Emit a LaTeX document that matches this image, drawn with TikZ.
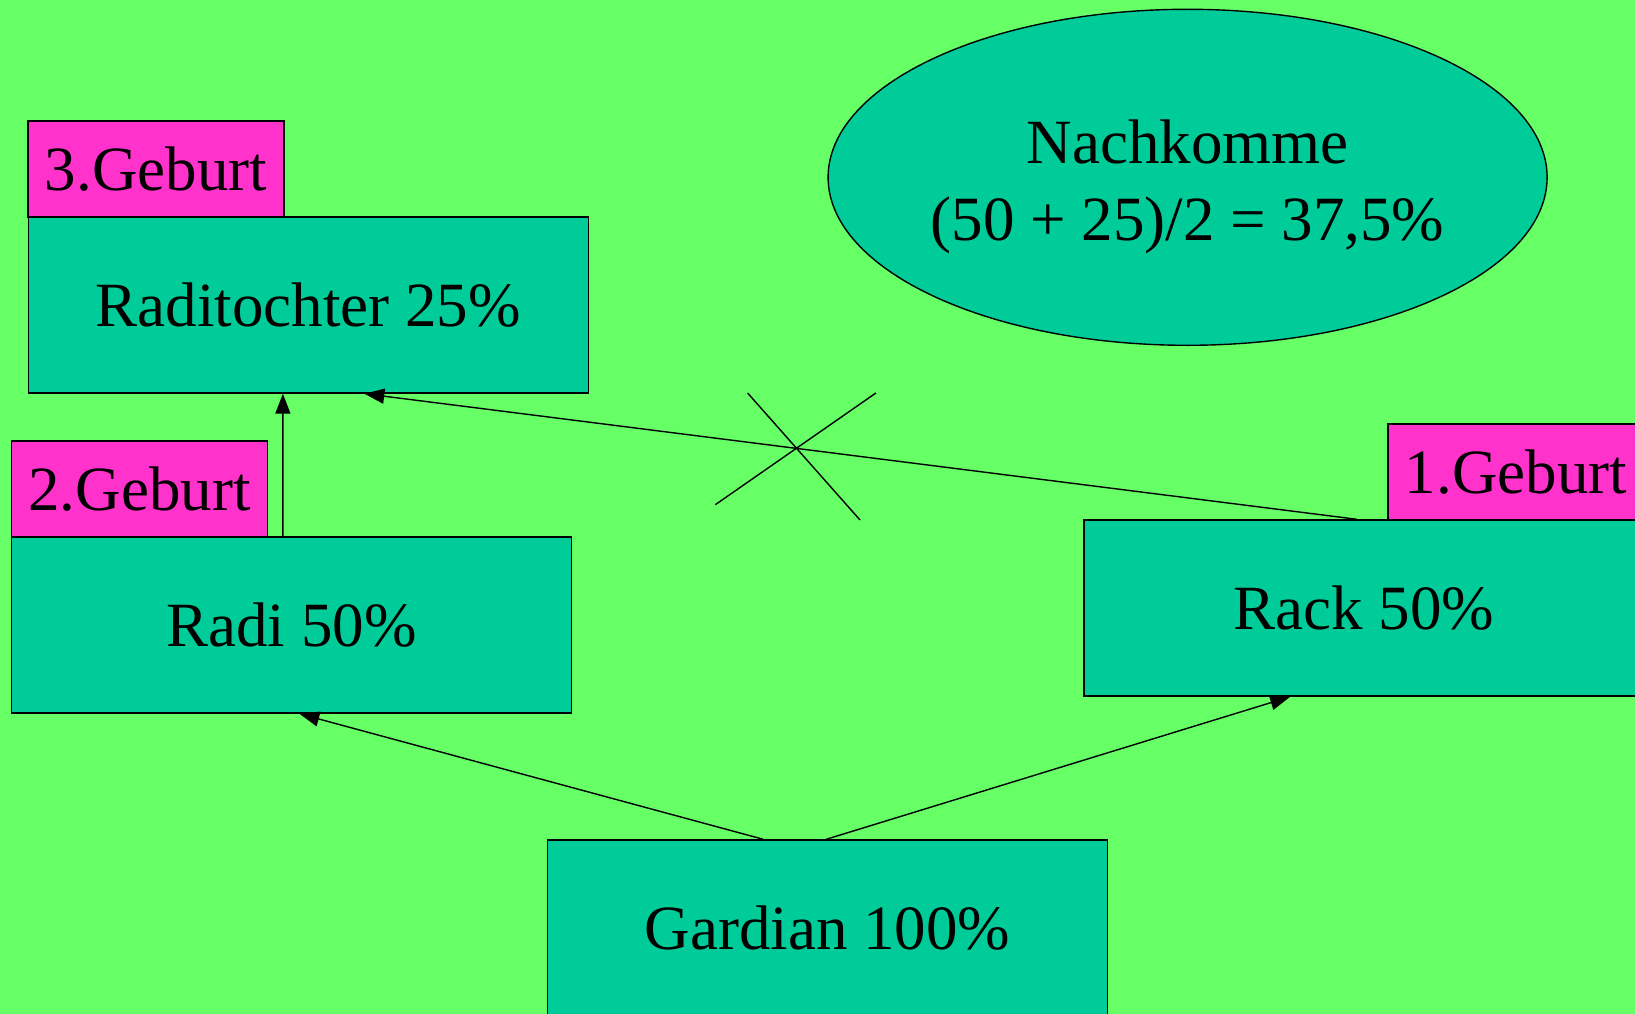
\documentclass[tikz,border=0pt]{standalone}
\usepackage{fontspec}
\setmainfont{Liberation Serif}
\usetikzlibrary{shapes.geometric,arrows.meta}
\definecolor{bg}{HTML}{66FF66}
\definecolor{boxc}{HTML}{00CC99}
\definecolor{pinkc}{HTML}{FF33CC}
\begin{document}
\begin{tikzpicture}[x=1pt,y=-1pt,
  every node/.style={font=\fontsize{63}{77}\selectfont},
  mainbox/.style={draw=black,line width=1.4pt,fill=boxc,inner sep=0pt,minimum width=560pt,minimum height=176pt,text depth=-4pt},
  tagbox/.style={draw=black,line width=1.4pt,fill=pinkc,inner sep=0pt,minimum width=256pt,minimum height=96pt},
  conn/.style={line width=1.4pt,-{Triangle[length=20pt,width=15pt]}},
  plainline/.style={line width=1.4pt}]
\fill[bg] (0,0) rectangle (1635,1014);
\useasboundingbox (0,0) rectangle (1635,1014);
% boxes
\node[mainbox] (rt) at (308.2,305) {Raditochter 25\%};
\node[tagbox] (g3) at (156,169) {3.Geburt};
\node[mainbox] (radi) at (291.5,625) {Radi 50\%};
\node[tagbox] (g2) at (139.5,489) {2.Geburt};
\node[mainbox] (rack) at (1364,608) {Rack 50\%};
\node[tagbox] (g1) at (1516,472) {1.Geburt};
\node[mainbox] (gard) at (827.4,928) {Gardian 100\%};
\node[ellipse,draw=black,line width=1.4pt,fill=boxc,inner sep=0pt,minimum width=719pt,minimum height=336pt,
  label={[align=center,yshift=-10pt]center:Nachkomme\\(50 + 25)/2 = 37,5\%}] (nk) at (1187.6,177.3) {};
% connectors
\draw[conn] ([xshift=273.6pt]rack.north west) -- ([xshift=336.8pt]rt.south west);
\draw[conn] ([xshift=272pt]radi.north west) -- ([xshift=255.4pt]rt.south west);
\draw[conn] ([xshift=216.6pt]gard.north west) -- ([xshift=288.5pt]radi.south west);
\draw[conn] ([xshift=279.5pt]gard.north west) -- ([xshift=206.9pt]rack.south west);
% cross
\coordinate (c1) at (747.6,393);
\coordinate (c2) at (860,520);
\coordinate (c3) at (715.3,504.7);
\coordinate (c4) at (875.9,393);
\draw[plainline] (c1) -- (c2);
\draw[plainline] (c3) -- (c4);
\end{tikzpicture}
\end{document}
